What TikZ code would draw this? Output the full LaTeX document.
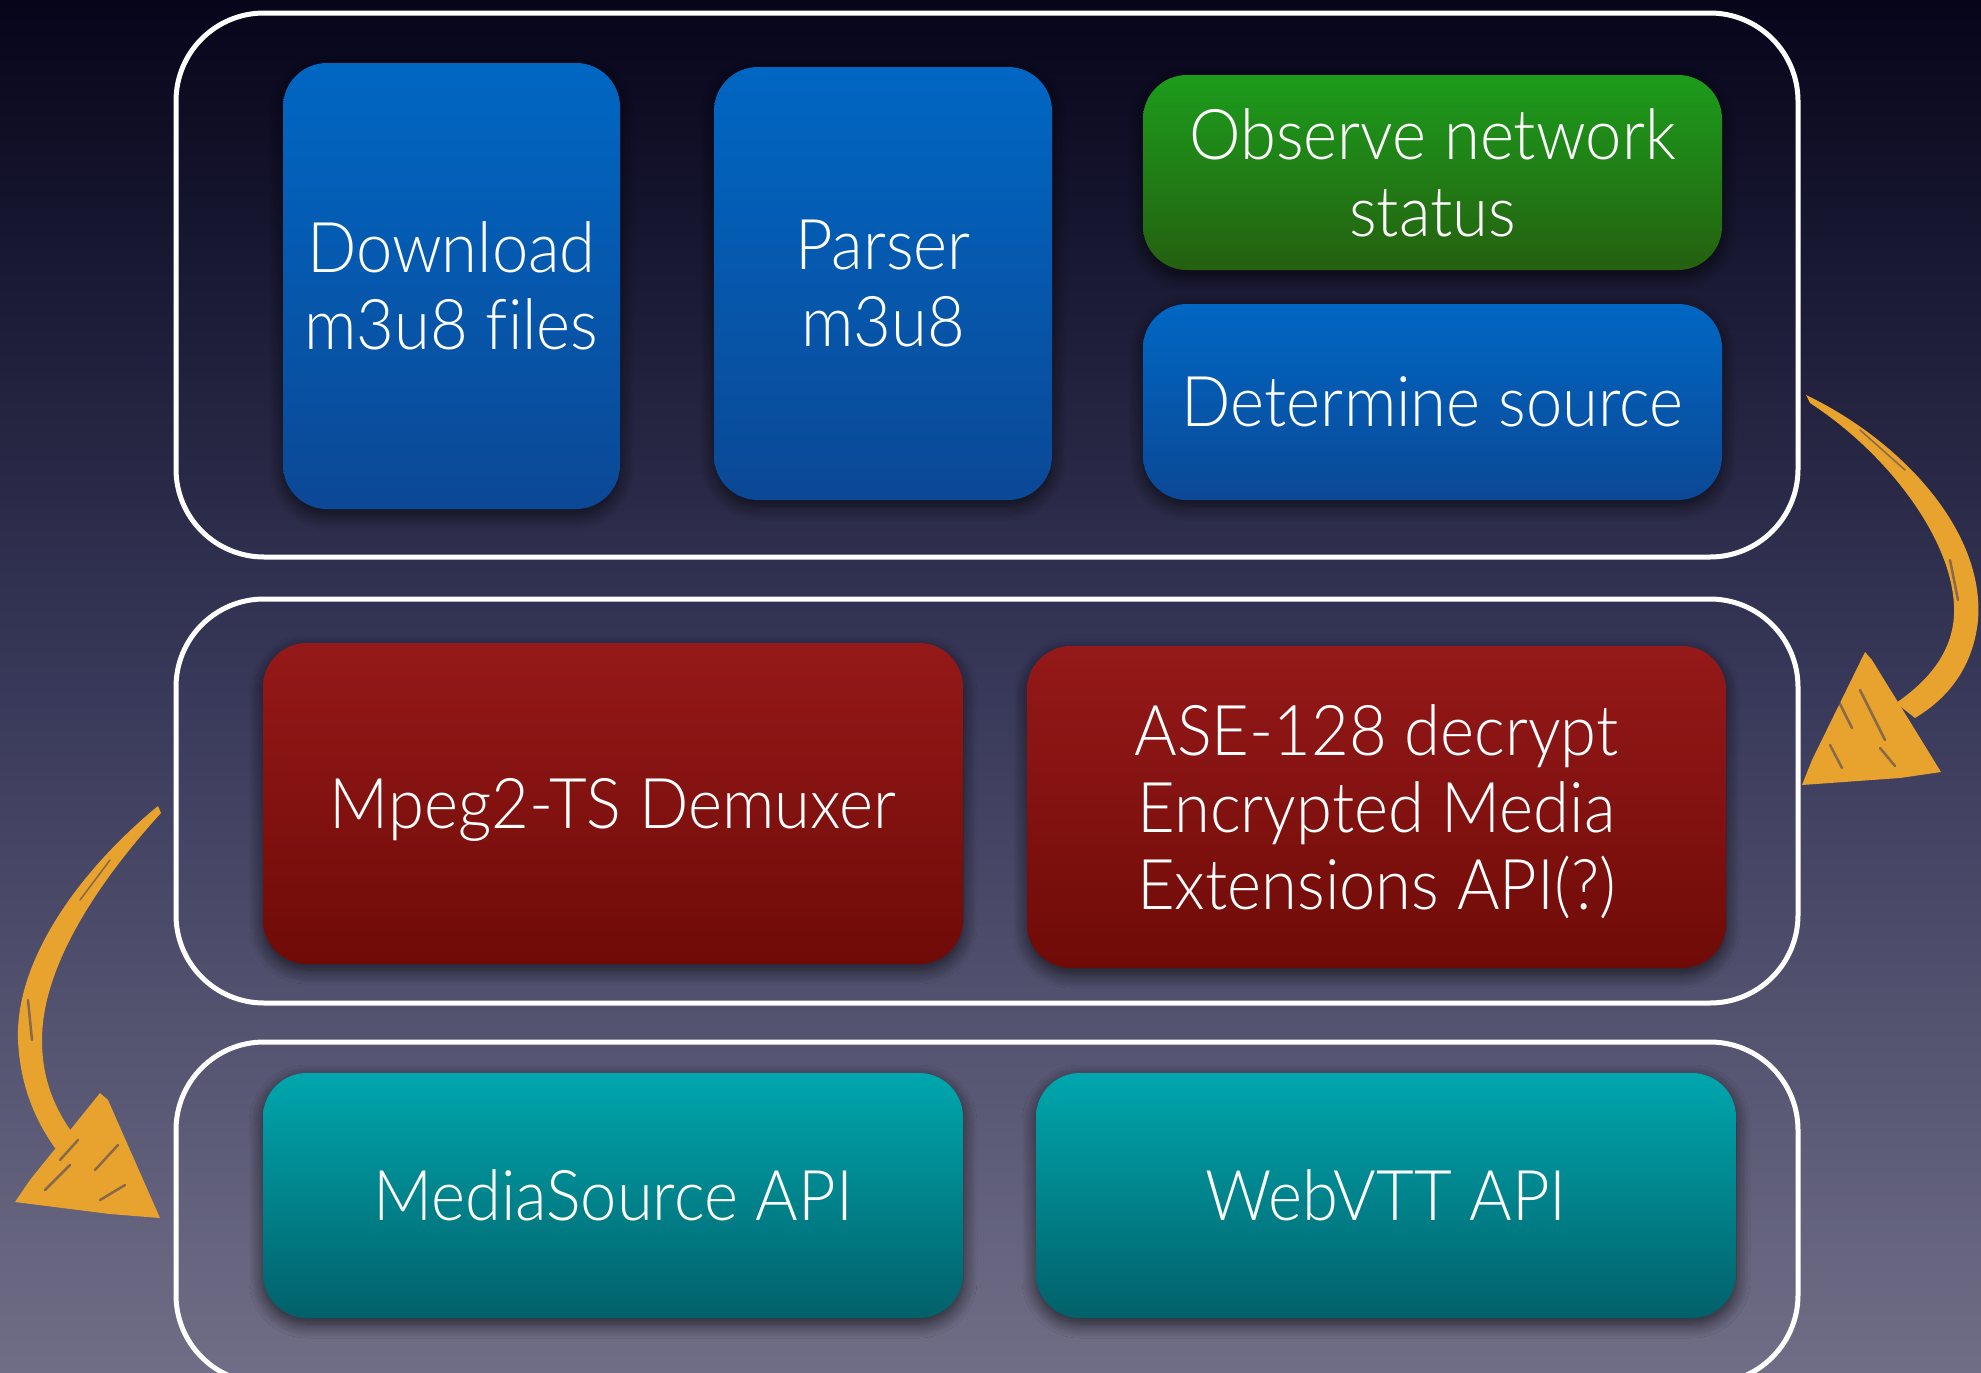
\documentclass[tikz,border=0pt]{standalone}
\usepackage{fontspec}
\IfFontExistsTF{Lato Light}
  {\setmainfont{Lato Light}[FakeStretch=0.93, Ligatures=NoCommon]}
  {\setmainfont{TeX Gyre Heros}[FakeStretch=0.91]}
\usetikzlibrary{shadows.blur}

% background
\definecolor{bgtop}{RGB}{6,5,26}
\definecolor{bgmid}{RGB}{56,56,90}
\definecolor{bgbot}{RGB}{112,110,134}
% card fills
\definecolor{bluetop}{RGB}{0,103,195}
\definecolor{bluebot}{RGB}{11,72,150}
\definecolor{greentop}{RGB}{28,156,28}
\definecolor{greenbot}{RGB}{37,96,16}
\definecolor{redtop}{RGB}{149,25,25}
\definecolor{redbot}{RGB}{111,11,7}
\definecolor{tealtop}{RGB}{0,167,174}
\definecolor{tealbot}{RGB}{2,96,106}
% brush arrows
\definecolor{brushc}{RGB}{232,163,46}
\definecolor{brushgap}{RGB}{60,58,92}

\begin{document}
\begin{tikzpicture}[x=1pt,y=-1pt,
  tier/.style={draw=white, line width=5pt, rounded corners=88pt,
    minimum width=1622pt, inner sep=0pt},
  card/.style={rounded corners=44pt, inner sep=0pt, text=white,
    align=center, text depth=0pt,
    font=\fontsize{70}{77}\selectfont,
    blur shadow={shadow xshift=0pt, shadow yshift=-6pt,
      shadow blur radius=14pt, shadow blur steps=14, shadow opacity=65}},
  bluecard/.style={card, top color=bluetop, bottom color=bluebot},
  greencard/.style={card, top color=greentop, bottom color=greenbot},
  redcard/.style={card, top color=redtop, bottom color=redbot},
  tealcard/.style={card, top color=tealtop, bottom color=tealbot},
  brush/.style={fill=brushc},
  streak/.style={draw=brushgap, opacity=0.55, line width=2.5pt, line cap=round}
]
\useasboundingbox (0,0) rectangle (1981,1373);
\shade[top color=bgtop, bottom color=bgbot, middle color=bgmid]
  (0,0) rectangle (1981,1373);

% the three tiers
\node[tier, minimum height=544pt] (tierA) at (987,285) {};
\node[tier, minimum height=404pt] (tierB) at (987,801) {};
\node[tier, minimum height=341pt] (tierC) at (987,1212.5) {};

% brush arrow: tier A -> tier B (right side)
\coordinate (rA) at (1808,398);
\coordinate (rB) at (1865,652);
\fill[brush] (1806,395) .. controls (1900,440) and (1985,530) .. (1978,620)
  .. controls (1973,670) and (1945,700) .. (1915,718) -- (1896,703)
  .. controls (1925,683) and (1952,655) .. (1954,615)
  .. controls (1957,545) and (1890,455) .. (1810,403) -- cycle;
\fill[brush] (rB) -- (1872,660) -- (1941,772) -- (1900,778) -- (1802,785)
  -- (1812,760) -- cycle;
\draw[streak] (1838,700) -- (1852,728);
\draw[streak] (1860,690) -- (1885,740);
\draw[streak] (1830,745) -- (1842,768);
\draw[streak] (1880,748) -- (1895,766);
\draw[streak] (1950,560) -- (1958,600);
\draw[streak, line width=1.5pt] (1860,430) -- (1905,470);

% brush arrow: tier B -> tier C (left side)
\coordinate (lA) at (158,808);
\coordinate (lB) at (100,1093);
\fill[brush] (158,806) .. controls (80,870) and (15,960) .. (18,1040)
  .. controls (20,1085) and (35,1120) .. (55,1148) -- (76,1138)
  .. controls (55,1110) and (42,1080) .. (42,1040)
  .. controls (42,965) and (100,880) .. (161,813) -- cycle;
\fill[brush] (lB) -- (108,1100) -- (160,1218) -- (110,1214) -- (15,1202)
  -- (30,1180) -- cycle;
\draw[streak] (60,1160) -- (78,1140);
\draw[streak] (45,1190) -- (70,1165);
\draw[streak] (95,1170) -- (118,1145);
\draw[streak] (100,1200) -- (125,1185);
\draw[streak] (28,1000) -- (32,1040);
\draw[streak, line width=1.5pt] (110,860) -- (80,900);

% tier A cards
\node[bluecard, minimum width=337pt, minimum height=446pt] (download)
  at (451.5,286) {Download\\m3u8 files};
\node[bluecard, minimum width=338pt, minimum height=433pt] (parser)
  at (883,283.5) {Parser\\m3u8};
\node[greencard, minimum width=579pt, minimum height=195pt] (observe)
  at (1432.5,172.5) {Observe network\\status};
\node[bluecard, minimum width=579pt, minimum height=196pt] (determine)
  at (1432.5,402) {Determine source};

% tier B cards
\node[redcard, minimum width=700pt, minimum height=321pt] (demux)
  at (613,803.5) {Mpeg2-TS Demuxer};
\node[redcard, minimum width=699pt, minimum height=322pt] (decrypt)
  at (1376.5,807) {ASE-128 decrypt\\Encrypted Media\\Extensions API(?)};

% tier C cards
\node[tealcard, minimum width=700pt, minimum height=245pt] (mse)
  at (613,1195.5) {MediaSource API};
\node[tealcard, minimum width=700pt, minimum height=245pt] (vtt)
  at (1386,1195.5) {WebVTT API};
\end{tikzpicture}
\end{document}
